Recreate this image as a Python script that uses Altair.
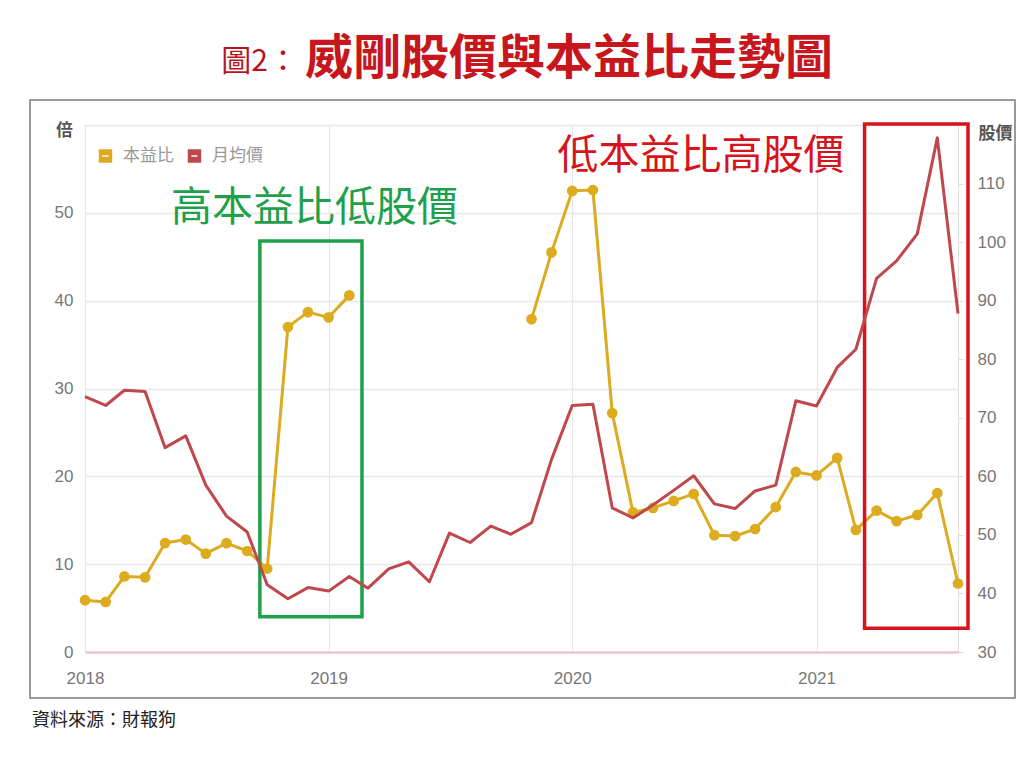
import altair as alt
import pandas as pd

# ---------------- data ----------------
months = pd.date_range("2018-01-01", periods=44, freq="MS")

pe_ratio = [5.9, 5.7, 8.6, 8.5, 12.4, 12.8, 11.2, 12.4, 11.5, 9.5,
            37.0, 38.7, 38.1, 40.6,
            None, None, None, None, None, None, None, None,
            37.9, 45.5, 52.5, 52.6, 27.2, 15.9, 16.4, 17.2, 18.0, 13.3,
            13.2, 14.0, 16.5, 20.5, 20.1, 22.1, 13.9, 16.1, 14.9, 15.6,
            18.1, 7.8]

monthly_price = [73.6, 72.1, 74.7, 74.5, 64.9, 66.9, 58.5, 53.2, 50.5, 41.5,
                 39.1, 41.0, 40.4, 42.9, 40.9, 44.2, 45.4, 42.0, 50.3, 48.7,
                 51.5, 50.1, 52.1, 62.9, 72.1, 72.3, 54.6, 52.9, 55.1, 57.6,
                 60.1, 55.3, 54.5, 57.5, 58.5, 72.9, 72.0, 78.6, 81.7, 93.8,
                 96.8, 101.4, 117.8, 87.8]

year_ticks = [2018, 2019, 2020, 2021]
left_ticks = [0, 10, 20, 30, 40, 50, 60]
right_ticks = [30, 40, 50, 60, 70, 80, 90, 100, 110]

ann_labels = ["高本益比低股價", "低本益比高股價"]
ann_dates = ["2018-12-11", "2020-07-12"]
ann_values = [50.4, 56.4]

box_start = ["2018-09-20", "2021-03-14"]
box_end = ["2019-02-20", "2021-08-16"]
box_low = [4.0, 2.7]
box_high = [46.8, 60.1]

# ---------------- styles ----------------
YELLOW = "#dcab1f"
RED_LINE = "#c0474b"
GREEN = "#1fa04b"
RED = "#d7141c"
CJK = "Noto Sans CJK TC"
NUM = "Liberation Sans"

df = pd.DataFrame({"month": months, "pe": pe_ratio, "price": monthly_price})
df["seg"] = df["pe"].isna().cumsum()
pe_df = df.dropna(subset=["pe"])

ann_df = pd.DataFrame({"label": ann_labels, "d": pd.to_datetime(ann_dates),
                       "v": ann_values, "c": [GREEN, RED]})
box_df = pd.DataFrame({"d1": pd.to_datetime(box_start), "d2": pd.to_datetime(box_end),
                       "v1": box_low, "v2": box_high, "c": [GREEN, RED]})

x_scale = alt.Scale(domain=[alt.DateTime(year=2018, month=1, date=1),
                            alt.DateTime(year=2021, month=8, date=1)])
left_scale = alt.Scale(domain=[0, 60], nice=False)
right_scale = alt.Scale(domain=[30, 120], nice=False)

x_axis = alt.Axis(values=[alt.DateTime(year=y, month=1, date=1) for y in year_ticks],
                  format="%Y", title=None, labelFontSize=17, labelColor="#777",
                  labelFont=NUM, labelFlush=False, labelPadding=18, ticks=False,
                  tickSize=0, domain=False, grid=True, gridColor="#e6e6e6",
                  gridWidth=1.2)

left_axis = alt.Axis(values=left_ticks,
                     labelExpr="datum.value == 60 ? '' : datum.label",
                     title="倍", titleAngle=0, titleX=-21, titleY=5,
                     titleAlign="center", titleBaseline="middle",
                     titleFont=CJK, titleFontSize=17, titleFontWeight="bold",
                     titleColor="#555",
                     labelFontSize=17, labelColor="#777", labelFont=NUM,
                     labelPadding=12, ticks=False, tickSize=0, domain=False,
                     grid=True,
                     gridColor={"condition": {"test": "datum.value === 0", "value": "#e9c6cb"},
                                "value": "#e8e8e8"},
                     gridWidth={"condition": {"test": "datum.value === 0", "value": 2.5},
                                "value": 1.3})

right_axis = alt.Axis(orient="right", values=right_ticks,
                      title="股價", titleAngle=0, titleX=37, titleY=8,
                      titleAlign="center", titleBaseline="middle",
                      titleFont=CJK, titleFontSize=17, titleFontWeight="bold",
                      titleColor="#555",
                      labelFontSize=17, labelColor="#777", labelFont=NUM,
                      labelPadding=14, ticks=True, tickSize=5, tickColor="#dddddd",
                      domain=False, grid=False)

X = lambda f: alt.X(f, scale=x_scale, axis=x_axis)
YL = lambda f: alt.Y(f, scale=left_scale, axis=left_axis)

# ---------------- left (P/E) group ----------------
pe_line = alt.Chart(pe_df).mark_line(color=YELLOW, strokeWidth=3, strokeJoin="round").encode(
    x=X("month:T"), y=YL("pe:Q"), detail="seg:N",
)
pe_pts = alt.Chart(pe_df).mark_point(filled=True, color=YELLOW, size=115, opacity=1).encode(
    x=X("month:T"), y=YL("pe:Q"),
)
boxes = alt.Chart(box_df).mark_rect(filled=False, strokeWidth=3.5).encode(
    x=X("d1:T"), x2="d2:T",
    y=YL("v1:Q"), y2="v2:Q",
    stroke=alt.Color("c:N", scale=None),
)
ann_text = alt.Chart(ann_df).mark_text(font=CJK, fontSize=41, align="center",
                                       baseline="middle").encode(
    x=X("d:T"), y=YL("v:Q"),
    text="label:N",
    color=alt.Color("c:N", scale=None),
)
left_group = alt.layer(pe_line, pe_pts, boxes, ann_text)

# ---------------- right (price) ----------------
price_line = alt.Chart(df).mark_line(color=RED_LINE, strokeWidth=3, strokeJoin="round").encode(
    x=X("month:T"),
    y=alt.Y("price:Q", scale=right_scale, axis=right_axis),
)

# ---------------- decorations ----------------
one = pd.DataFrame({"k": [0]})

frame = alt.Chart(one).mark_rect(filled=False, stroke="#7a7a7a", strokeWidth=1.5).encode(
    x=alt.value(-55), x2=alt.value(930), y=alt.value(-25), y2=alt.value(573))

title_a = alt.Chart(one).mark_text(text="圖2：", font=CJK, fontSize=30, color="#b5161d",
                                   align="right", baseline="middle").encode(
    x=alt.value(213), y=alt.value(-63))
title_b = alt.Chart(one).mark_text(text="威剛股價與本益比走勢圖", font=CJK, fontSize=48,
                                   fontWeight="bold", color="#c8161d",
                                   align="left", baseline="middle").encode(
    x=alt.value(220), y=alt.value(-65))

SQUARE = "M-1,-1H1V1H-1Z M-0.45,-0.1V0.1H0.45V-0.1Z"
leg_y_sym = alt.Chart(one).mark_point(shape=SQUARE, filled=True, size=180, color=YELLOW,
                                      opacity=1).encode(x=alt.value(20.5), y=alt.value(31))
leg_y_txt = alt.Chart(one).mark_text(text="本益比", font=CJK, fontSize=17, color="#999",
                                     align="left", baseline="middle").encode(
    x=alt.value(38), y=alt.value(31))
leg_r_sym = alt.Chart(one).mark_point(shape=SQUARE, filled=True, size=180, color=RED_LINE,
                                      opacity=1).encode(x=alt.value(109.5), y=alt.value(31))
leg_r_txt = alt.Chart(one).mark_text(text="月均價", font=CJK, fontSize=17, color="#999",
                                     align="left", baseline="middle").encode(
    x=alt.value(127), y=alt.value(31))

source = alt.Chart(one).mark_text(text="資料來源：財報狗", font=CJK, fontSize=18, color="#222",
                                  align="left", baseline="middle").encode(
    x=alt.value(-53), y=alt.value(596))

chart = alt.layer(
    frame, left_group, price_line, title_a, title_b,
    leg_y_sym, leg_y_txt, leg_r_sym, leg_r_txt, source,
).resolve_scale(y="independent").properties(
    width=873, height=527,
    autosize=alt.AutoSizeParams(type="none"),
    padding={"left": 77, "top": 117, "right": 58, "bottom": 98},
).configure_view(stroke=None, strokeWidth=0).configure(background="white")

chart.save("out.html", embed_options={"renderer": "svg", "actions": False})
